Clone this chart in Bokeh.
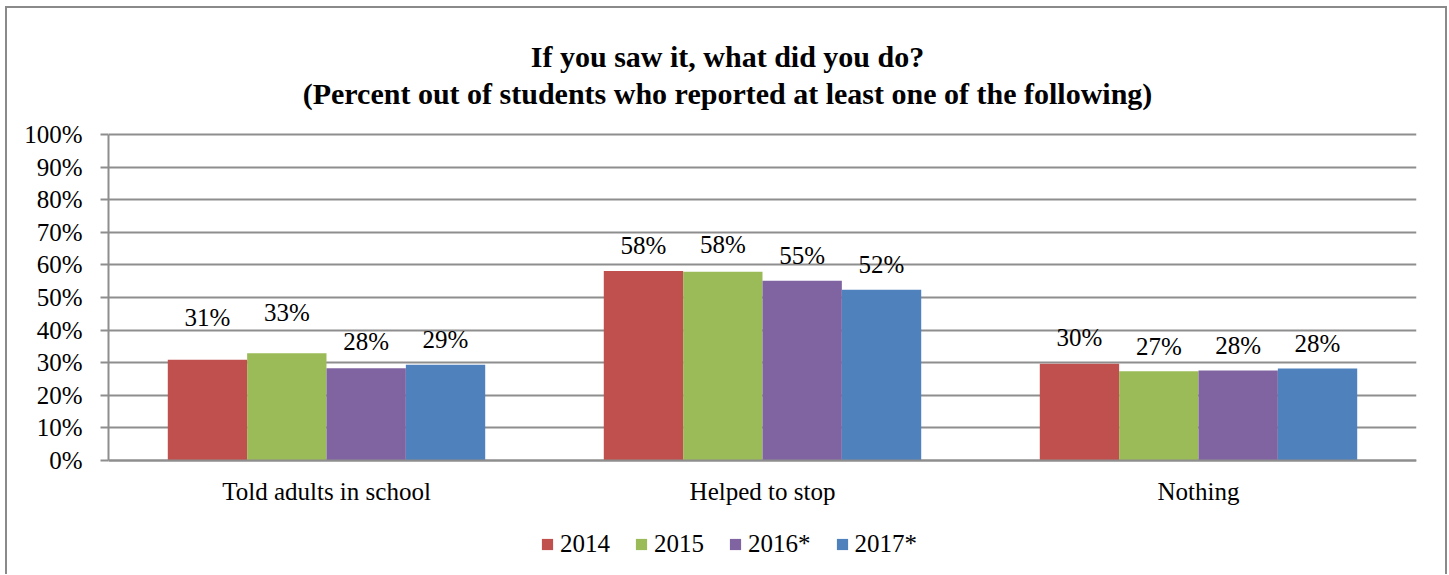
from bokeh.plotting import figure
from bokeh.models import (ColumnDataSource, FactorRange, Range1d, FixedTicker,
                          PrintfTickFormatter, LabelSet, Legend, LegendItem, Label)
from bokeh.core.properties import value
from bokeh.transform import dodge
from bokeh.embed import file_html
from bokeh.resources import INLINE

# ---- data ----
title_lines = ["If you saw it, what did you do?",
               "(Percent out of students who reported at least one of the following)"]
categories = ["Told adults in school", "Helped to stop", "Nothing"]
years = ["2014", "2015", "2016*", "2017*"]
v2014 = [30.9, 58.1, 29.7]
v2015 = [32.9, 57.9, 27.4]
v2016 = [28.3, 55.1, 27.6]
v2017 = [29.4, 52.4, 28.2]
series = [v2014, v2015, v2016, v2017]

# ---- style / layout ----
colors = ["#C0504D", "#9BBB59", "#8064A2", "#4F81BD"]
label_lift_px = [[42, 26, 26], [41, 27, 25], [27, 25, 25], [25, 25, 25]]
FONT = "Liberation Serif"
FS = "25px"
GRID = "#8e8e8e"
BAR_W = 0.182
offsets = [-1.5 * BAR_W, -0.5 * BAR_W, 0.5 * BAR_W, 1.5 * BAR_W]
W, H = 1447, 574
LEFT = 108
TOP = 134                # px from top of canvas to the 100 % line
AXIS_PX = 326            # pixel height of 0..100 %
Y_MAX = 100 + TOP * 100.0 / AXIS_PX
Y_MIN = -(H - TOP - AXIS_PX) * 100.0 / AXIS_PX

p = figure(x_range=FactorRange(*categories), y_range=Range1d(Y_MIN, Y_MAX),
           width=W, height=H, output_backend="svg", toolbar_location=None,
           min_border_left=LEFT, min_border_right=31,
           min_border_top=0, min_border_bottom=0)
p.title.visible = False
p.styles = {"box-shadow": "inset 5px 6px 0 0 #ffffff, inset 7px 8px 0 0 #8a8a8a, "
                          "inset -2px 0 0 0 #8a8a8a"}
p.outline_line_color = None
p.background_fill_alpha = 0
p.border_fill_alpha = 0

items = []
for i, (yr, vals) in enumerate(zip(years, series)):
    src = ColumnDataSource(dict(cat=categories, val=vals,
                                label=[f"{round(v)}%" for v in vals],
                                lift=label_lift_px[i]))
    r = p.vbar(x=dodge("cat", offsets[i], range=p.x_range), top="val", bottom=0,
               width=BAR_W, source=src, fill_color=colors[i], line_color=None)
    items.append(LegendItem(label=yr, renderers=[r]))
    p.add_layout(LabelSet(x=dodge("cat", offsets[i], range=p.x_range), y="val",
                          text="label", y_offset="lift", source=src,
                          text_align="center", text_baseline="middle",
                          text_font=value(FONT), text_font_size=value(FS),
                          text_color="black"))

# axes
p.xgrid.grid_line_color = None
p.ygrid.grid_line_color = GRID
p.ygrid.grid_line_width = 2
p.yaxis.ticker = FixedTicker(ticks=list(range(0, 101, 10)))
p.ygrid.ticker = FixedTicker(ticks=list(range(0, 101, 10)))
p.yaxis.formatter = PrintfTickFormatter(format="%d%%")
p.yaxis.bounds = (0, 100)
p.xaxis.fixed_location = 0
for ax in (p.xaxis[0], p.yaxis[0]):
    ax.axis_line_color = GRID
    ax.axis_line_width = 2
    ax.major_label_text_font = FONT
    ax.major_label_text_font_size = FS
    ax.major_label_text_color = "black"
    ax.minor_tick_line_color = None
p.yaxis.major_tick_out = 8
p.yaxis.major_tick_in = 0
p.yaxis.major_tick_line_color = GRID
p.yaxis.major_tick_line_width = 2
p.yaxis.major_label_standoff = 18
p.xaxis.major_tick_line_color = None
p.xaxis.major_label_standoff = 11

# two-line bold title (baselines at 56 px and 93 px from the top, centred on the chart)
for txt, base in zip(title_lines, [56, 93]):
    p.add_layout(Label(x=727 - LEFT, y=H - base, x_units="screen", y_units="screen",
                       text=txt, text_align="center", text_baseline="alphabetic",
                       text_font=FONT, text_font_size="30px", text_font_style="bold",
                       text_color="black"))

legend = Legend(items=items, location=(432, 16), orientation="horizontal",
                label_text_font=FONT, label_text_font_size=FS,
                label_text_color="black",
                glyph_width=14, glyph_height=14, label_standoff=6, spacing=24,
                border_line_color=None, background_fill_alpha=0, padding=0, margin=0)
p.add_layout(legend, "center")

open("out.html", "w").write(file_html(p, INLINE))
